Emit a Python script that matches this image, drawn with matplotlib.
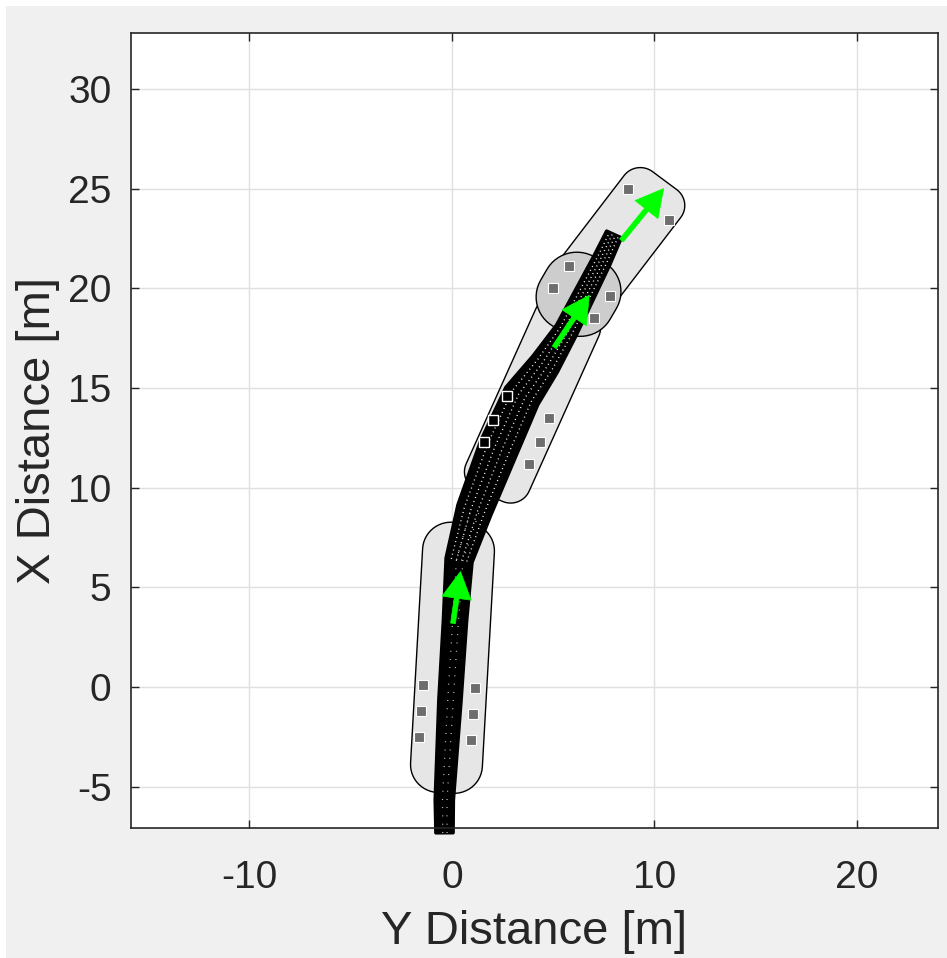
import numpy as np
import matplotlib
matplotlib.use("Agg")
import matplotlib.pyplot as plt
from matplotlib.patches import Polygon, Rectangle

plt.rcParams['font.family'] = ['Liberation Sans', 'DejaVu Sans']
plt.rcParams['axes.unicode_minus'] = False

# ---------------- data ----------------
x_limits = (-15.85, 24.0)
y_limits = (-7.06, 32.8)
x_ticks = [-10, 0, 10, 20]
y_ticks = [-5, 0, 5, 10, 15, 20, 25, 30]
x_label = "Y Distance [m]"
y_label = "X Distance [m]"

# capsule regions: rear centre (y, x), front centre (y, x), width, corner radius
region_rear_y = [-0.35, 1.85, 5.9, 5.25]
region_rear_x = [-5.3, 9.6, 19.3, 17.95]
region_front_y = [0.4, 6.1, 10.5, 7.25]
region_front_x = [8.25, 19.2, 25.4, 21.45]
region_width = [3.55, 3.4, 3.5, 3.95]
region_radius = [1.4, 1.0, 1.0, 1.7]
region_color = ['#e6e6e6', '#e6e6e6', '#e6e6e6', '#cdcdcd']

# trail (centreline and band width)
trail_y = [-0.37, -0.38, -0.1, 0.15, 0.35, 1.1, 2.3, 3.45, 4.6, 5.65, 7.4, 8.0]
trail_x = [-7.3, -5.66, -0.65, 3.36, 6.37, 8.87, 12.0, 14.6, 16.2, 17.9, 21.4, 22.7]
trail_w = [0.85, 0.9, 1.1, 1.15, 1.3, 1.7, 1.9, 1.8, 1.45, 1.1, 0.9, 0.8]

# grey squares (detections)
sq_y = [-1.45, -1.53, -1.63, 1.14, 1.04, 0.94, 4.8, 4.35, 3.8,
        5.8, 5.0, 7.8, 7.0, 8.7, 10.7]
sq_x = [0.1, -1.2, -2.5, -0.05, -1.35, -2.65, 13.5, 12.3, 11.2,
        21.1, 20.0, 19.6, 18.5, 25.0, 23.4]
# squares under the trail (only outline visible)
hsq_y = [2.7, 2.05, 1.6]
hsq_x = [14.6, 13.4, 12.3]

# green heading arrows: tail and tip
arrow_tail_y = [0.05, 5.05, 8.37]
arrow_tail_x = [3.2, 17.04, 22.4]
arrow_tip_y = [0.42, 6.78, 10.45]
arrow_tip_x = [5.8, 19.65, 25.0]


def rounded_box(rear, front, width, r, n=14):
    rear = np.asarray(rear, float)
    front = np.asarray(front, float)
    L = np.hypot(*(front - rear))
    d = (front - rear) / L
    nv = np.array([d[1], -d[0]])
    h = width / 2.0
    local = []
    corner_defs = [((L - r, h - r), 0, 90),
                   ((r, h - r), 90, 180),
                   ((r, -h + r), 180, 270),
                   ((L - r, -h + r), 270, 360)]
    for (cu, cv), a0, a1 in corner_defs:
        for tt in np.radians(np.linspace(a0, a1, n)):
            local.append((cu + r * np.cos(tt), cv + r * np.sin(tt)))
    local = np.array(local)
    return rear[None, :] + local[:, :1] * d[None, :] + local[:, 1:2] * nv[None, :]


fig = plt.figure(figsize=(9.47, 9.58), dpi=100, facecolor='white')
fig.patches.append(Rectangle((6 / 947, 0), 1, 1 - 6 / 958, transform=fig.transFigure,
                             facecolor='#f0f0f0', edgecolor='none', zorder=-10))
ax = fig.add_axes([131 / 947, 1 - 828 / 958, (938 - 131) / 947, (828 - 33) / 958])
ax.set_facecolor('white')

for k in range(len(region_width)):
    poly = rounded_box((region_rear_y[k], region_rear_x[k]),
                       (region_front_y[k], region_front_x[k]),
                       region_width[k], region_radius[k])
    ax.add_patch(Polygon(poly, closed=True, facecolor=region_color[k],
                         edgecolor='black', linewidth=1.0, zorder=2 + 0.1 * k))

# squares
ax.plot(sq_y, sq_x, linestyle='none', marker='s', markersize=7,
        markerfacecolor='#6e6e6e', markeredgecolor='white', markeredgewidth=0.8, zorder=3)

# trail band
P = np.column_stack([trail_y, trail_x]).astype(float)
W = np.asarray(trail_w, float)
T = np.gradient(P, axis=0)
T /= np.hypot(T[:, 0], T[:, 1])[:, None]
N = np.column_stack([T[:, 1], -T[:, 0]])
left = P + N * W[:, None] / 2
right = P - N * W[:, None] / 2
band = np.vstack([left, right[::-1]])
ax.add_patch(Polygon(band, closed=True, facecolor='black', edgecolor='black',
                     linewidth=2.5, joinstyle='round', zorder=4, clip_on=False))
# white speckle texture inside the band
for f in [-0.3, -0.1, 0.1, 0.3]:
    line = P[4:] + N[4:] * (W[4:, None] * f)
    ax.plot(line[:, 0], line[:, 1], color='white', linewidth=1.0,
            linestyle=(0, (0.7, 2.4)), zorder=4.5)
for f in [-0.1, 0.15]:
    line = P[:6] + N[:6] * (W[:6, None] * f)
    ax.plot(line[:, 0], line[:, 1], color='white', linewidth=0.9,
            linestyle=(0, (0.6, 6)), zorder=4.5, clip_on=False)

ax.plot(hsq_y, hsq_x, linestyle='none', marker='s', markersize=7,
        markerfacecolor='black', markeredgecolor='white', markeredgewidth=1.0, zorder=4.6)

# arrows
for ty, tx, hy, hx in zip(arrow_tail_y, arrow_tail_x, arrow_tip_y, arrow_tip_x):
    ax.arrow(ty, tx, hy - ty, hx - tx, width=0.24, head_width=1.45, head_length=1.35,
             length_includes_head=True, facecolor='#00ff00', edgecolor='#00ff00',
             linewidth=0.5, zorder=5)

ax.set_xlim(*x_limits)
ax.set_ylim(*y_limits)
ax.set_xticks(x_ticks)
ax.set_yticks(y_ticks)
ax.grid(True, color='#e0e0e0', linewidth=1.0, zorder=0)
ax.set_axisbelow(True)
ax.tick_params(direction='in', length=6, width=1.0, colors='#262626',
               labelsize=28, top=True, right=True)
ax.tick_params(axis='x', pad=23)
ax.tick_params(axis='y', pad=14)
for s in ax.spines.values():
    s.set_color('#262626')
    s.set_linewidth(1.2)
    s.set_zorder(6)
ax.set_xlabel(x_label, fontsize=34, color='#262626', labelpad=10)
ax.set_ylabel(y_label, fontsize=34, color='#262626', labelpad=6)

fig.savefig('out.png', dpi=100, facecolor=fig.get_facecolor())
